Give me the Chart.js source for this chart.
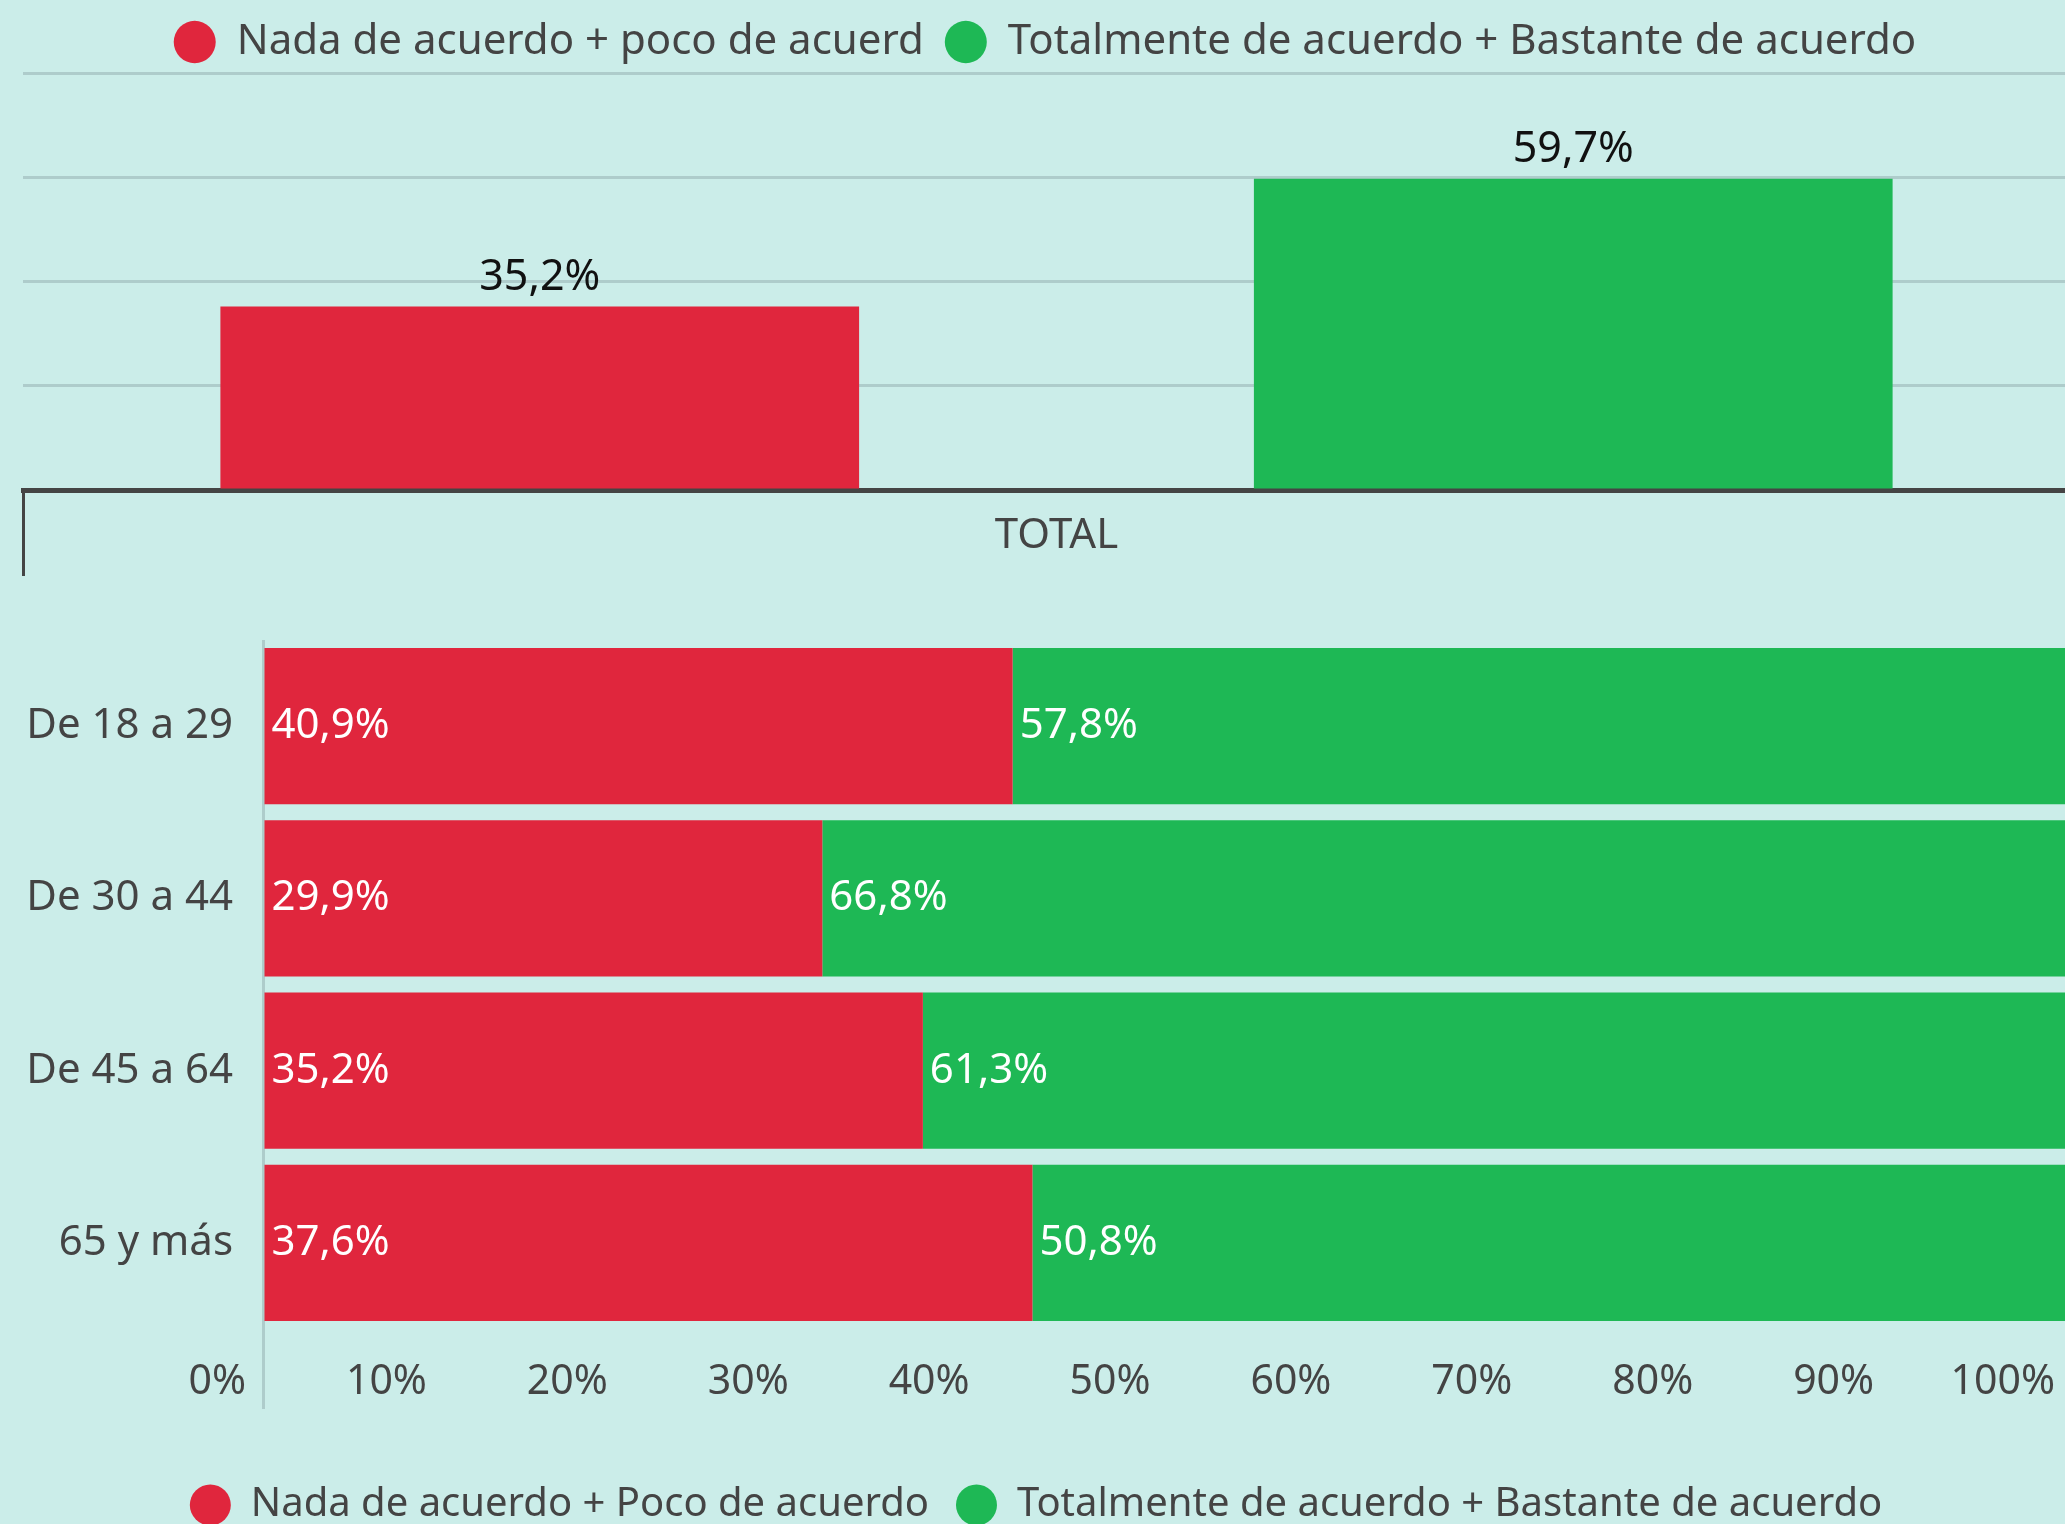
<!DOCTYPE html>
<html>
<head>
<meta charset="utf-8">
<script src="https://cdn.jsdelivr.net/npm/chart.js@4.4.1/dist/chart.umd.min.js"></script>
<style>
  html, body { margin: 0; padding: 0; background: #cbede9; overflow: hidden; width: 2065px; height: 1524px; }
  #totalChart { position: absolute; left: 0; top: 0; }
  #edadChart { position: absolute; left: 0; top: 600px; }
</style>
</head>
<body>
<canvas id="totalChart" width="2090" height="600"></canvas>
<canvas id="edadChart" width="2092" height="935"></canvas>
<script>
// datos
const totalLabels = ['TOTAL'];
const totalDesacuerdo = [35.2];
const totalAcuerdo = [59.7];

const edades = ['De 18 a 29', 'De 30 a 44', 'De 45 a 64', '65 y más'];
const desacuerdo = [40.9, 29.9, 35.2, 37.6];
const acuerdo = [57.8, 66.8, 61.3, 50.8];

const xTicks = [0, 10, 20, 30, 40, 50, 60, 70, 80, 90, 100];

const ROJO = '#e0263d';
const VERDE = '#1eb855';
const GRIS = '#444444';
const REJILLA = '#aecccb';
const FUENTE = "'Noto Sans', sans-serif";

const pct = v => v.toFixed(1).replace('.', ',') + '%';

// each bar of the stacked chart is shown as share of its row total
const reparto = (a, b) => a.map((v, i) => v / (a[i] + b[i]) * 100);

// labels over / inside bars
const valueLabels = {
    id: 'valueLabels',
    afterDatasetsDraw(chart, args, opts) {
        const ctx = chart.ctx;
        ctx.save();
        ctx.font = opts.size + 'px ' + FUENTE;
        ctx.fillStyle = opts.color;
        chart.data.datasets.forEach((ds, i) => {
            chart.getDatasetMeta(i).data.forEach((bar, j) => {
                const p = bar.getProps(['x', 'y', 'base'], true);
                const txt = pct(ds.valores[j]);
                if (opts.inside) {
                    ctx.textAlign = 'left';
                    ctx.textBaseline = 'middle';
                    ctx.fillText(txt, p.base + opts.offset, p.y);
                } else {
                    ctx.textAlign = 'center';
                    ctx.textBaseline = 'alphabetic';
                    ctx.fillText(txt, p.x, p.y - opts.offset);
                }
            });
        });
        ctx.restore();
    }
};

new Chart('totalChart', {
    type: 'bar',
    plugins: [valueLabels],
    data: {
        labels: totalLabels,
        datasets: [{
            label: 'Nada de acuerdo + poco de acuerd',
            data: totalDesacuerdo,
            valores: totalDesacuerdo,
            backgroundColor: ROJO
        }, {
            label: 'Totalmente de acuerdo + Bastante de acuerdo',
            data: totalAcuerdo,
            valores: totalAcuerdo,
            backgroundColor: VERDE
        }]
    },
    options: {
        responsive: false,
        animation: false,
        categoryPercentage: 1,
        barPercentage: 0.618,
        plugins: {
            legend: {
                position: 'top',
                labels: {
                    usePointStyle: true,
                    pointStyle: 'circle',
                    boxHeight: 30,
                    pointStyleWidth: 42,
                    padding: 21,
                    color: GRIS,
                    font: { family: FUENTE, size: 42 }
                }
            },
            tooltip: { enabled: false },
            valueLabels: { size: 43, color: '#111111', offset: 17, inside: false }
        },
        scales: {
            x: {
                afterFit: s => { s.height = 110; },
                ticks: { color: GRIS, padding: -65, font: { family: FUENTE, size: 42 } },
                grid: {
                    offset: true,
                    drawOnChartArea: false,
                    drawTicks: true,
                    tickLength: 86,
                    color: GRIS,
                    lineWidth: 3
                },
                border: { display: true, color: GRIS, width: 5 }
            },
            y: {
                min: 0,
                max: 80,
                afterFit: s => { s.width = 23; },
                ticks: { display: false, stepSize: 20 },
                grid: {
                    drawTicks: false,
                    lineWidth: 3,
                    color: c => c.tick.value === 0 ? 'rgba(0,0,0,0)' : REJILLA
                },
                border: { display: false }
            }
        }
    }
});

new Chart('edadChart', {
    type: 'bar',
    plugins: [valueLabels],
    data: {
        labels: edades,
        datasets: [{
            label: 'Nada de acuerdo + Poco de acuerdo',
            data: reparto(desacuerdo, acuerdo),
            valores: desacuerdo,
            backgroundColor: ROJO
        }, {
            label: 'Totalmente de acuerdo + Bastante de acuerdo',
            data: reparto(acuerdo, desacuerdo),
            valores: acuerdo,
            backgroundColor: VERDE
        }]
    },
    options: {
        indexAxis: 'y',
        responsive: false,
        animation: false,
        categoryPercentage: 0.907,
        barPercentage: 1,
        layout: { padding: { top: 40, right: 20 } },
        plugins: {
            legend: {
                position: 'bottom',
                labels: {
                    usePointStyle: true,
                    pointStyle: 'circle',
                    boxHeight: 29,
                    pointStyleWidth: 41,
                    padding: 27,
                    color: GRIS,
                    font: { family: FUENTE, size: 40 }
                }
            },
            tooltip: { enabled: false },
            valueLabels: { size: 42, color: '#ffffff', offset: 7, inside: true }
        },
        scales: {
            x: {
                stacked: true,
                min: 0,
                max: 100,
                afterFit: s => { s.height = 129; },
                afterBuildTicks: s => { s.ticks = xTicks.map(v => ({ value: v })); },
                ticks: {
                    callback: v => v + '%',
                    align: 'end',
                    labelOffset: -17,
                    padding: -51,
                    maxRotation: 0,
                    autoSkip: false,
                    color: GRIS,
                    font: { family: FUENTE, size: 41 }
                },
                grid: {
                    drawOnChartArea: true,
                    drawTicks: true,
                    tickLength: 80,
                    lineWidth: 3,
                    color: c => c.index === 0 ? REJILLA : 'rgba(0,0,0,0)'
                },
                border: { display: false }
            },
            y: {
                stacked: true,
                afterFit: s => {
                    s.width = 263;
                    s.paddingTop = 0;
                    s.paddingBottom = 0;
                },
                ticks: { color: GRIS, padding: 30, font: { family: FUENTE, size: 42 } },
                grid: { display: false, drawTicks: false },
                border: { display: false }
            }
        }
    }
});
</script>
</body>
</html>
